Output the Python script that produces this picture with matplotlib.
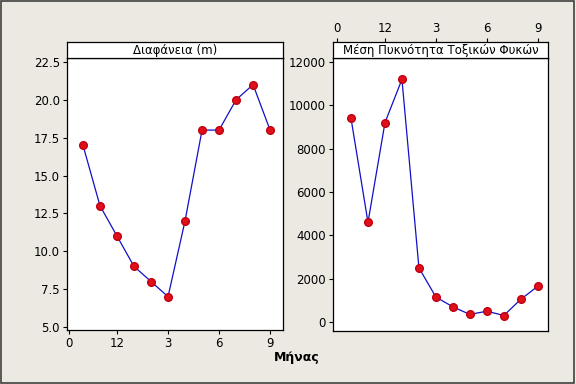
import matplotlib.pyplot as plt
from matplotlib.patches import Rectangle

# months Oct..Sep
months = [10, 11, 12, 1, 2, 3, 4, 5, 6, 7, 8, 9]
clarity = [17, 13, 11, 9, 8, 7, 12, 18, 18, 20, 21, 18]
algae = [9400, 4600, 9200, 11200, 2500, 1150, 700, 350, 500, 300, 1050, 1650]
tick_labels = ["0", "12", "3", "6", "9"]
tick_pos = [-0.85, 2, 5, 8, 11]

titles = ["Διαφάνεια (m)", "Μέση Πυκνότητα Τοξικών Φυκών"]

W, H = 576, 384
bg = "#ECE8E2"
fig = plt.figure(figsize=(W / 100, H / 100), dpi=100, facecolor=bg)
fig.patches.append(Rectangle((0.002, 0.003), 0.995, 0.994, transform=fig.transFigure,
                             fill=False, edgecolor="#404040", linewidth=1.2))

def frac(x0, y0, x1, y1):
    return [x0 / W, (H - y1) / H, (x1 - x0) / W, (y1 - y0) / H]

x = list(range(len(months)))

def panel(rect, head, title, values, xlim, ylim, yticks, ylabels, top):
    ax = fig.add_axes(frac(*rect))
    ax.plot(x, values, color="#1010C8", linewidth=0.9, zorder=2)
    ax.plot(x, values, "o", color="#E0101A", markeredgecolor="#C00010",
            markersize=5.5, zorder=3)
    ax.set_xlim(xlim)
    ax.set_ylim(ylim)
    ax.set_yticks(yticks)
    ax.set_yticklabels(ylabels)
    ax.tick_params(length=3, width=0.8, labelsize=8.5, pad=2, colors="black")
    for s in ax.spines.values():
        s.set_linewidth(0.9)
    hx = fig.add_axes(frac(*head))
    hx.set_xlim(xlim)
    hx.set_yticks([])
    for s in hx.spines.values():
        s.set_linewidth(0.9)
    hx.text(0.5, 0.45, title, ha="center", va="center", fontsize=8.5,
            transform=hx.transAxes)
    if top:
        ax.set_xticks([])
        hx.xaxis.tick_top()
        hx.set_xticks(tick_pos)
        hx.set_xticklabels(tick_labels)
        hx.tick_params(length=3, width=0.8, labelsize=8.5, pad=2)
    else:
        ax.set_xticks(tick_pos)
        ax.set_xticklabels(tick_labels)
        hx.set_xticks([])
    return ax

panel((67, 58, 283, 330), (67, 42, 283, 58), titles[0], clarity,
      (-0.94, 11.76), (4.8, 22.76),
      [5, 7.5, 10, 12.5, 15, 17.5, 20, 22.5],
      ["5.0", "7.5", "10.0", "12.5", "15.0", "17.5", "20.0", "22.5"], False)

panel((333, 58, 548, 331), (333, 42, 548, 58), titles[1], algae,
      (-1.06, 11.6), (-415, 12185),
      [0, 2000, 4000, 6000, 8000, 10000, 12000],
      ["0", "2000", "4000", "6000", "8000", "10000", "12000"], True)

fig.text(297 / W, 1 - 357 / H, "Μήνας", ha="center", va="center",
         fontsize=9, fontweight="bold")

fig.savefig("out.png", dpi=100, facecolor=bg)
